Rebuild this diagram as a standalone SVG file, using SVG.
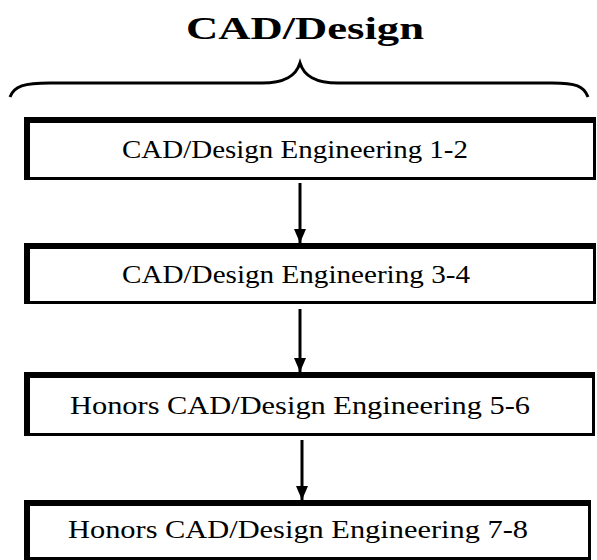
<svg xmlns="http://www.w3.org/2000/svg" width="597" height="560" viewBox="0 0 597 560">
<defs>
<style>
.box{fill:#fff;stroke:#000;stroke-width:3}
.thick{fill:none;stroke:#000;stroke-width:3}
.lbl{font-family:"Liberation Serif","Times New Roman",serif;font-size:26px;fill:#000;text-anchor:middle}
.title{font-family:"Liberation Serif","Times New Roman",serif;font-size:32px;font-weight:bold;fill:#000;text-anchor:middle}
.conn{stroke:#000;stroke-width:3;fill:none}
</style>
<marker id="ah" markerWidth="14" markerHeight="12" refX="14" refY="6" orient="auto" markerUnits="userSpaceOnUse" viewBox="0 0 14 12">
<path d="M0,0 L14,6 L0,12 Z" fill="#000"/>
</marker>
</defs>
<rect width="597" height="560" fill="#fff"/>
<text class="title" x="305" y="39" textLength="238" lengthAdjust="spacingAndGlyphs">CAD/Design</text>
<path d="M10,97 C14,86 24,83 50,83 L262,83 C285,83 296,76 300,63 C304,76 315,83 338,83 L552,83 C576,83 584,86 588,97" fill="none" stroke="#000" stroke-width="3"/>
<g id="n1">
<rect class="box" x="25.5" y="118.5" width="569" height="60"/>
<path class="thick" d="M28.5,178 L28.5,121.5 L594,121.5"/>
<text class="lbl" x="295" y="158" textLength="346" lengthAdjust="spacingAndGlyphs">CAD/Design Engineering 1-2</text>
</g>
<g id="n2">
<rect class="box" x="25.5" y="244.5" width="569" height="58"/>
<path class="thick" d="M28.5,302 L28.5,247.5 L594,247.5"/>
<text class="lbl" x="296" y="283" textLength="348" lengthAdjust="spacingAndGlyphs">CAD/Design Engineering 3-4</text>
</g>
<g id="n3">
<rect class="box" x="25.5" y="373.5" width="568" height="61"/>
<path class="thick" d="M28.5,434 L28.5,376.5 L593,376.5"/>
<text class="lbl" x="300" y="414" textLength="460" lengthAdjust="spacingAndGlyphs">Honors CAD/Design Engineering 5-6</text>
</g>
<g id="n4">
<rect class="box" x="25.5" y="501.5" width="564" height="57"/>
<path class="thick" d="M28.5,558 L28.5,504.5 L589,504.5"/>
<text class="lbl" x="298" y="538" textLength="460" lengthAdjust="spacingAndGlyphs">Honors CAD/Design Engineering 7-8</text>
</g>
<g id="connectors">
<line class="conn" x1="300" y1="183" x2="300" y2="243" marker-end="url(#ah)"/>
<line class="conn" x1="300" y1="309" x2="300" y2="372" marker-end="url(#ah)"/>
<line class="conn" x1="302" y1="440" x2="302" y2="500" marker-end="url(#ah)"/>
</g>
</svg>
